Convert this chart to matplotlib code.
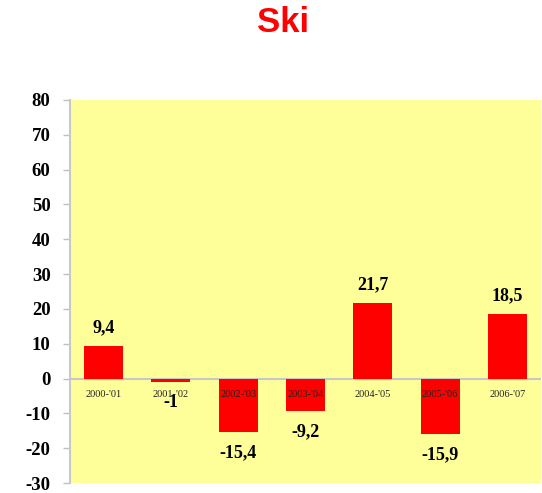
import matplotlib
matplotlib.use("Agg")
import matplotlib.pyplot as plt

# data
seasons = ["2000-'01", "2001-'02", "2002-'03", "2003-'04", "2004-'05", "2005-'06", "2006-'07"]
values = [9.4, -1, -15.4, -9.2, 21.7, -15.9, 18.5]
value_labels = ["9,4", "-1", "-15,4", "-9,2", "21,7", "-15,9", "18,5"]
y_ticks = [-30, -20, -10, 0, 10, 20, 30, 40, 50, 60, 70, 80]

fig = plt.figure(figsize=(5.42, 4.93), dpi=100)
ax = fig.add_axes([70 / 542, 10 / 493, 471 / 542, 383 / 493])
ax.set_facecolor("#FFFF99")

x = range(len(seasons))
ax.bar(x, values, width=0.58, color="#FF0000", zorder=2)
ax.axhline(0, color="#C8C8C8", linewidth=1.5, zorder=1)

for i, (v, lab) in enumerate(zip(values, value_labels)):
    y = v + 5.3 if v >= 0 else v - 6.0
    ax.text(i, y, lab, ha="center", va="center", fontsize=13, fontweight="bold",
            family="Liberation Serif", color="black", zorder=3)

# category labels sit just under the zero line (the -1 label overlaps one, as in the original)
for i, s in enumerate(seasons):
    ax.text(i, -4.6, s, ha="center", va="center", fontsize=7.5,
            family="Liberation Serif", color="#222222", zorder=3)

ax.set_xlim(-0.5, len(seasons) - 0.5)
ax.set_ylim(-30, 80)
ax.set_yticks(y_ticks)
ax.set_yticklabels([str(t) for t in y_ticks], fontsize=13.5, fontweight="bold",
                   family="Liberation Serif")
ax.set_xticks([])
ax.tick_params(axis="y", length=5, width=1, color="#C0C0C0", pad=9)

for side in ["top", "right", "bottom"]:
    ax.spines[side].set_visible(False)
ax.spines["left"].set_color("#C8C8C8")
ax.spines["left"].set_linewidth(1.5)

fig.text(283 / 542, 1 - 23 / 493, "Ski", ha="center", va="center", fontsize=25,
         fontweight="bold", family="Liberation Sans", color="#FF0000")

fig.savefig("out.png", dpi=100)
